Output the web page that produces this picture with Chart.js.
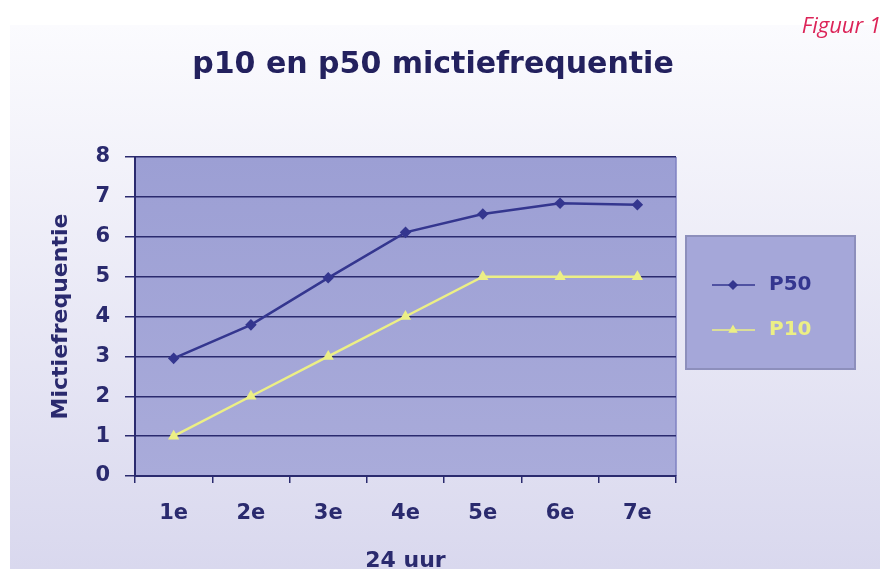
<!DOCTYPE html>
<html lang="nl">
<head>
  <meta charset="UTF-8">
  <title>p10 en p50 mictiefrequentie</title>
  <style>
    html, body { margin: 0; padding: 0; background: #ffffff; }
    #wrap { width: 885px; height: 569px; }
  </style>
  <script src="https://cdn.jsdelivr.net/npm/chart.js"></script>
</head>
<body>
  <div id="wrap"><canvas id="chart" width="885" height="569"></canvas></div>
  <script>
    const categories = ['1e', '2e', '3e', '4e', '5e', '6e', '7e'];
    const p50Values = [2.95, 3.79, 4.97, 6.11, 6.57, 6.84, 6.8];
    const p10Values = [1, 2, 3, 4, 5, 5, 5];
    const seriesNames = ['P50', 'P10'];

    const navy = '#2a2a6e';
    const lineBlue = '#34368f';
    const lineYellow = '#ecef85';
    const fontFamily = '"DejaVu Sans", sans-serif';

    // slide background, plot fill, title, legend box
    const decor = {
      id: 'decor',
      beforeDraw(chart) {
        const ctx = chart.ctx;
        const area = chart.chartArea;
        ctx.save();
        let g = ctx.createLinearGradient(0, 25, 0, 569);
        g.addColorStop(0, '#fbfbfe');
        g.addColorStop(1, '#d9d8ee');
        ctx.fillStyle = g;
        ctx.fillRect(10, 25, 870, 544);

        g = ctx.createLinearGradient(0, area.top, 0, area.bottom);
        g.addColorStop(0, '#9c9fd4');
        g.addColorStop(1, '#a9abda');
        ctx.fillStyle = g;
        ctx.fillRect(area.left, area.top, area.right - area.left, area.bottom - area.top);

        ctx.strokeStyle = '#7f82c2';
        ctx.lineWidth = 1.5;
        ctx.beginPath();
        ctx.moveTo(area.right, area.top);
        ctx.lineTo(area.right, area.bottom);
        ctx.stroke();
        ctx.restore();
      },
      afterDraw(chart) {
        const ctx = chart.ctx;
        ctx.save();
        ctx.fillStyle = '#23215e';
        ctx.font = 'bold 30px ' + fontFamily;
        ctx.textAlign = 'center';
        ctx.textBaseline = 'middle';
        ctx.fillText('p10 en p50 mictiefrequentie', 433, 65);

        ctx.fillStyle = '#dc2458';
        ctx.font = 'italic 22px "Open Sans", sans-serif';
        ctx.textAlign = 'right';
        ctx.fillText('Figuur 1', 881, 27);

        // legend
        ctx.fillStyle = '#a5a7d9';
        ctx.fillRect(686, 236, 169, 133);
        ctx.strokeStyle = '#8d8fbc';
        ctx.lineWidth = 2;
        ctx.strokeRect(686, 236, 169, 133);

        const rows = [285, 330];
        chart.data.datasets.forEach((ds, i) => {
          const y = rows[i];
          ctx.strokeStyle = ds.borderColor;
          ctx.fillStyle = ds.borderColor;
          ctx.lineWidth = 1.5;
          ctx.beginPath();
          ctx.moveTo(712, y);
          ctx.lineTo(755, y);
          ctx.stroke();
          Chart.helpers.drawPoint(ctx, {
            pointStyle: ds.pointStyle,
            radius: ds.pointRadius,
            borderWidth: 1
          }, 733, y);
          ctx.font = 'bold 20px ' + fontFamily;
          ctx.textAlign = 'left';
          ctx.textBaseline = 'middle';
          ctx.fillText(ds.label, 769, y);
        });
        ctx.restore();
      }
    };

    new Chart(document.getElementById('chart'), {
      type: 'line',
      data: {
        labels: categories,
        datasets: [
          {
            label: seriesNames[0],
            data: p50Values,
            borderColor: lineBlue,
            backgroundColor: lineBlue,
            borderWidth: 2.5,
            pointStyle: 'rectRot',
            pointRadius: 4,
            tension: 0
          },
          {
            label: seriesNames[1],
            data: p10Values,
            borderColor: lineYellow,
            backgroundColor: lineYellow,
            borderWidth: 2.5,
            pointStyle: 'triangle',
            pointRadius: 4,
            tension: 0
          }
        ]
      },
      options: {
        responsive: false,
        animation: false,
        layout: { padding: { left: 10, top: 157, right: 209, bottom: 0 } },
        plugins: {
          legend: { display: false },
          tooltip: { enabled: false }
        },
        scales: {
          x: {
            offset: true,
            afterFit(scale) { scale.height = 93; },
            grid: {
              offset: true,
              drawOnChartArea: false,
              drawTicks: true,
              tickLength: 7,
              color: navy,
              lineWidth: 1.5
            },
            border: { display: true, color: navy, width: 2 },
            ticks: {
              color: navy,
              padding: 18,
              font: { family: fontFamily, size: 21, weight: 'bold' }
            },
            title: {
              display: true,
              text: '24 uur',
              color: navy,
              padding: { top: 0, bottom: -5 },
              font: { family: fontFamily, size: 22, weight: 'bold' }
            }
          },
          y: {
            min: 0,
            max: 8,
            afterFit(scale) { scale.width = 125; },
            grid: {
              color: navy,
              lineWidth: 1.5,
              tickLength: 10
            },
            border: { display: true, color: navy, width: 2 },
            ticks: {
              stepSize: 1,
              color: navy,
              padding: 15,
              font: { family: fontFamily, size: 21, weight: 'bold' }
            },
            title: {
              display: true,
              text: 'Mictiefrequentie',
              color: navy,
              padding: { top: 38, bottom: 0 },
              font: { family: fontFamily, size: 22, weight: 'bold' }
            }
          }
        }
      },
      plugins: [decor]
    });
  </script>
</body>
</html>
